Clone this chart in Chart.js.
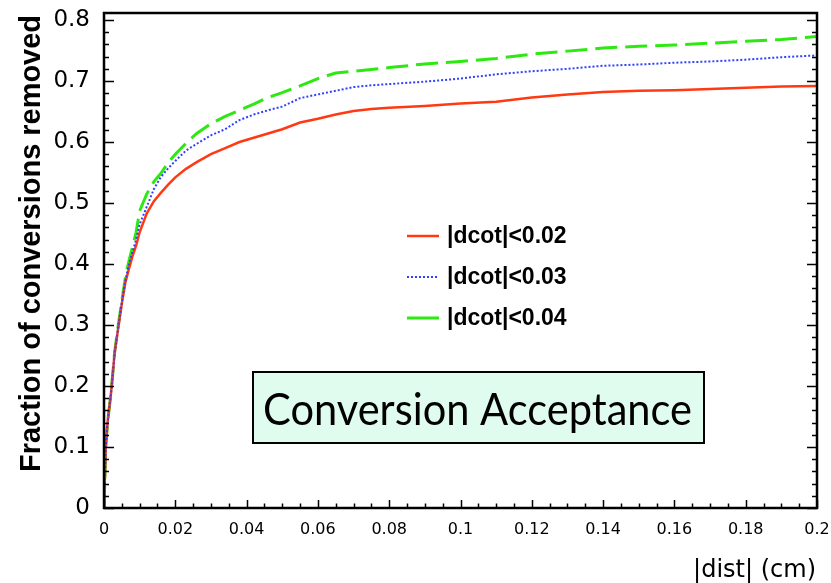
<!DOCTYPE html>
<html>
<head>
<meta charset="utf-8">
<script src="https://cdn.jsdelivr.net/npm/chart.js@4/dist/chart.umd.min.js"></script>
<style>
  html, body { margin: 0; padding: 0; background: #ffffff; }
  #wrap { position: relative; width: 831px; height: 583px; }
</style>
</head>
<body>
<div id="wrap"><canvas id="c" width="831" height="583"></canvas></div>
<script>
// ---- data ----
const distX = [0, 0.0005, 0.001, 0.002, 0.003, 0.004, 0.005, 0.006, 0.007, 0.008, 0.009,
  0.010, 0.012, 0.014, 0.016, 0.018, 0.020, 0.023, 0.026, 0.030, 0.034, 0.038, 0.042, 0.046,
  0.050, 0.055, 0.060, 0.065, 0.070, 0.075, 0.080, 0.090, 0.100, 0.110, 0.120, 0.130, 0.140,
  0.150, 0.160, 0.170, 0.180, 0.190, 0.200];
const fracDcot002 = [0, 0.10, 0.14, 0.19, 0.255, 0.295, 0.335, 0.37, 0.392, 0.413, 0.43,
  0.452, 0.483, 0.503, 0.517, 0.530, 0.542, 0.556, 0.567, 0.580, 0.590, 0.600, 0.607, 0.614,
  0.621, 0.632, 0.638, 0.645, 0.651, 0.654, 0.656, 0.659, 0.663, 0.666, 0.673, 0.678, 0.682,
  0.684, 0.685, 0.687, 0.689, 0.691, 0.692];
const fracDcot003 = [0, 0.10, 0.14, 0.19, 0.255, 0.297, 0.337, 0.373, 0.40, 0.42, 0.44,
  0.465, 0.494, 0.523, 0.543, 0.557, 0.569, 0.586, 0.597, 0.611, 0.621, 0.636, 0.645, 0.652,
  0.658, 0.672, 0.678, 0.684, 0.690, 0.693, 0.695, 0.699, 0.704, 0.711, 0.716, 0.720, 0.725,
  0.727, 0.730, 0.732, 0.735, 0.739, 0.742];
const fracDcot004 = [0, 0.10, 0.14, 0.19, 0.256, 0.30, 0.34, 0.378, 0.405, 0.428, 0.452,
  0.487, 0.515, 0.535, 0.549, 0.566, 0.580, 0.598, 0.614, 0.630, 0.642, 0.652, 0.662, 0.673,
  0.681, 0.692, 0.704, 0.713, 0.716, 0.719, 0.722, 0.728, 0.732, 0.737, 0.744, 0.749, 0.754,
  0.757, 0.759, 0.762, 0.765, 0.768, 0.773];
const seriesLabels = ['|dcot|<0.02', '|dcot|<0.03', '|dcot|<0.04'];
const xTickValues = [0, 0.02, 0.04, 0.06, 0.08, 0.1, 0.12, 0.14, 0.16, 0.18, 0.2];
const yTickValues = [0, 0.1, 0.2, 0.3, 0.4, 0.5, 0.6, 0.7, 0.8];
const xTitle = '|dist| (cm)';
const yTitle = 'Fraction of conversions removed';
const boxText = 'Conversion Acceptance';

const toPts = arr => arr.map((v, i) => ({ x: distX[i], y: v }));

const framePlugin = {
  id: 'frame',
  afterDatasetsDraw(chart) {
    const { ctx, chartArea: a, scales } = chart;
    const xs = scales.x, ys = scales.y;
    ctx.save();
    ctx.strokeStyle = '#000';
    ctx.lineWidth = 2.5;
    ctx.strokeRect(a.left, a.top, a.right - a.left, a.bottom - a.top);
    ctx.lineWidth = 1.5;
    for (let k = 0; k <= 40; k++) {
      const v = k * 0.02;
      const py = Math.round(ys.getPixelForValue(v)) + 0.5;
      if (py < a.top + 1) continue;
      const len = (k % 5 === 0) ? 10 : 5;
      ctx.beginPath();
      ctx.moveTo(a.left, py); ctx.lineTo(a.left + len, py);
      ctx.moveTo(a.right, py); ctx.lineTo(a.right - len, py);
      ctx.stroke();
    }
    for (let k = 0; k <= 40; k++) {
      const v = k * 0.005;
      const px = Math.round(xs.getPixelForValue(v)) + 0.5;
      const len = (k % 4 === 0) ? 8 : 4.5;
      ctx.beginPath();
      ctx.moveTo(px, a.bottom); ctx.lineTo(px, a.bottom - len);
      ctx.stroke();
    }
    ctx.restore();
  },
  afterDraw(chart) {
    const { ctx } = chart;
    ctx.save();
    ctx.fillStyle = '#000';
    ctx.font = 'bold 29px "Liberation Sans", Arial, sans-serif';
    ctx.textAlign = 'left';
    ctx.textBaseline = 'alphabetic';
    ctx.translate(40, 472);
    ctx.rotate(-Math.PI / 2);
    const tw = ctx.measureText(yTitle).width;
    ctx.scale(457 / tw, 1);
    ctx.fillText(yTitle, 0, 0);
    ctx.restore();

    ctx.save();
    ctx.fillStyle = '#000';
    ctx.font = '24px "DejaVu Sans", sans-serif';
    ctx.textAlign = 'right';
    ctx.textBaseline = 'alphabetic';
    ctx.fillText(xTitle, 816, 577);
    ctx.restore();

    ctx.save();
    const legY = [236, 277, 318];
    chart.data.datasets.forEach((ds, i) => {
      ctx.strokeStyle = ds.borderColor;
      ctx.lineWidth = ds.borderWidth;
      ctx.setLineDash(i === 1 ? [2, 2] : []);
      ctx.beginPath();
      ctx.moveTo(407, legY[i]); ctx.lineTo(439, legY[i]);
      ctx.stroke();
      ctx.setLineDash([]);
      ctx.fillStyle = '#000';
      ctx.font = 'bold 23px "Liberation Sans", Arial, sans-serif';
      ctx.textAlign = 'left';
      ctx.textBaseline = 'middle';
      ctx.fillText(ds.label, 447, legY[i] + 1);
    });
    ctx.restore();

    ctx.save();
    ctx.fillStyle = '#dffcef';
    ctx.fillRect(253, 372, 451, 71);
    ctx.strokeStyle = '#000';
    ctx.lineWidth = 2;
    ctx.strokeRect(253, 372, 451, 71);
    ctx.fillStyle = '#000';
    ctx.font = '44px Lato, "Open Sans", sans-serif';
    ctx.textAlign = 'left';
    ctx.textBaseline = 'alphabetic';
    const bw = ctx.measureText(boxText).width;
    ctx.translate(263, 425);
    ctx.scale(429 / bw, 1);
    ctx.fillText(boxText, 0, 0);
    ctx.restore();
  }
};

new Chart(document.getElementById('c'), {
  type: 'line',
  data: {
    datasets: [
      { label: seriesLabels[0], data: toPts(fracDcot002), borderColor: '#ff3a12', borderWidth: 2.5,
        pointRadius: 0, tension: 0, order: 1 },
      { label: seriesLabels[1], data: toPts(fracDcot003), borderColor: '#3040ff', borderWidth: 2,
        borderDash: [2, 2], pointRadius: 0, tension: 0, order: 0 },
      { label: seriesLabels[2], data: toPts(fracDcot004), borderColor: '#2ee812', borderWidth: 3,
        borderDash: [22, 8], pointRadius: 0, tension: 0, order: 2 }
    ]
  },
  options: {
    responsive: false,
    animation: false,
    events: [],
    layout: { padding: { top: 13, right: 14, left: 0, bottom: 0 } },
    plugins: { legend: { display: false }, tooltip: { enabled: false }, title: { display: false } },
    scales: {
      x: {
        type: 'linear', min: 0, max: 0.2,
        grid: { display: false, drawTicks: false },
        border: { display: false },
        afterFit(s) { s.height = 75; s.paddingLeft = 0; s.paddingRight = 0; },
        afterBuildTicks(s) { s.ticks = xTickValues.map(v => ({ value: v })); },
        ticks: {
          padding: 12, maxRotation: 0, autoSkip: false, color: '#000',
          font: { family: '"DejaVu Sans", sans-serif', size: 16 },
          callback: v => String(+v.toFixed(3))
        }
      },
      y: {
        type: 'linear', min: 0, max: 0.8115,
        grid: { display: false, drawTicks: false },
        border: { display: false },
        afterFit(s) { s.width = 104; s.paddingTop = 0; s.paddingBottom = 0; },
        afterBuildTicks(s) { s.ticks = yTickValues.map(v => ({ value: v })); },
        ticks: {
          padding: 14, autoSkip: false, color: '#000',
          font: { family: '"DejaVu Sans", sans-serif', size: 23 },
          callback: v => String(+v.toFixed(2))
        }
      }
    }
  },
  plugins: [framePlugin]
});
</script>
</body>
</html>
